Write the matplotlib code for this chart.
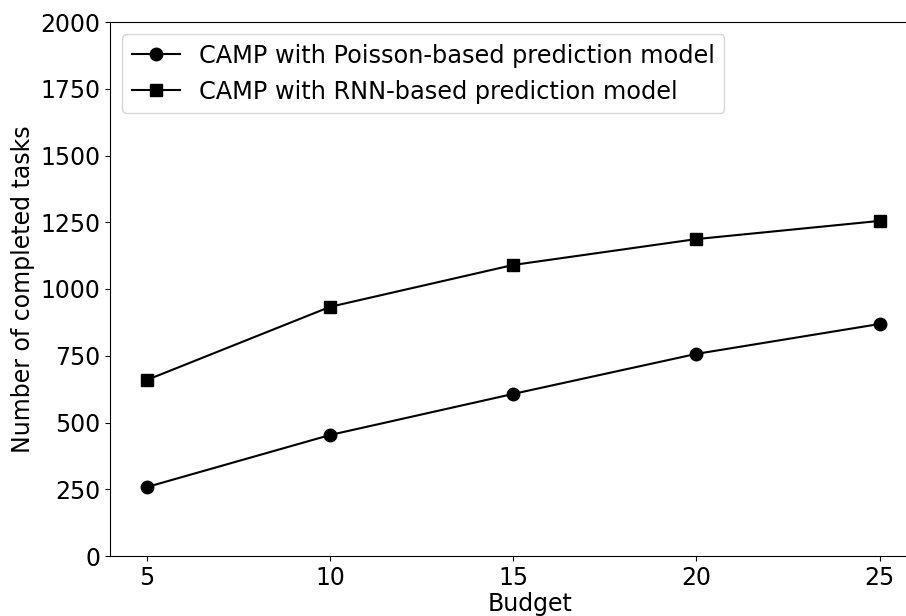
import matplotlib
matplotlib.use("Agg")
import matplotlib.pyplot as plt

budget = [5, 10, 15, 20, 25]
poisson_tasks = [258, 453, 607, 757, 869]
rnn_tasks = [659, 933, 1090, 1187, 1255]
y_ticks = [0, 250, 500, 750, 1000, 1250, 1500, 1750, 2000]

W, H = 906, 616
fig = plt.figure(figsize=(W / 100, H / 100), dpi=100)

# x scale: 36.65 px per budget unit, left edge at budget 4
px_per_unit = 36.65
ax_width_px = 840
ax = fig.add_axes([110 / W, (H - 556) / H, ax_width_px / W, 534 / H])

ax.plot(budget, poisson_tasks, color="black", marker="o", markersize=9,
        linewidth=1.5, label="CAMP with Poisson-based prediction model")
ax.plot(budget, rnn_tasks, color="black", marker="s", markersize=9,
        linewidth=1.5, label="CAMP with RNN-based prediction model")

ax.set_xlim(4, 4 + ax_width_px / px_per_unit)
ax.set_ylim(0, 2000)
ax.set_xticks(budget)
ax.set_yticks(y_ticks)
ax.spines["right"].set_visible(False)
ax.tick_params(labelsize=17)
ax.set_xlabel("Budget", fontsize=17, labelpad=2)
ax.set_ylabel("Number of completed tasks", fontsize=17)
ax.legend(loc="upper left", fontsize=17.3)

fig.savefig("out.png", dpi=100)
